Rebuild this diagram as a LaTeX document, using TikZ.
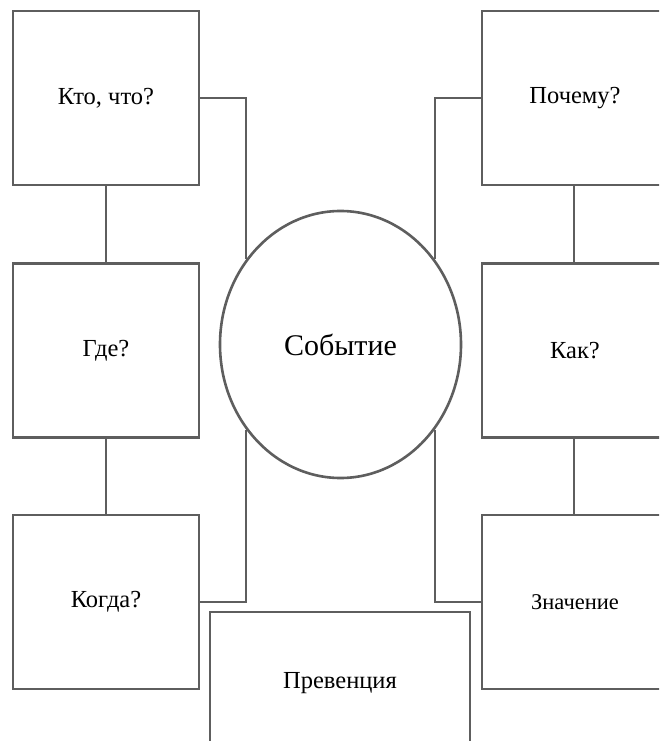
\documentclass[tikz,border=0pt]{standalone}
\usepackage{fontspec}
\setmainfont{Liberation Serif}
\usetikzlibrary{shapes.geometric}
\definecolor{linegray}{HTML}{5E5E5E}
\tikzset{
  qbox/.style={draw=linegray, line width=2.6pt, fill=white, rectangle, minimum width=186pt, minimum height=174pt, inner sep=0pt, font=\fontsize{24.5}{28}\selectfont},
  conn/.style={draw=linegray, line width=2.6pt},
  evt/.style={draw=linegray, line width=2.6pt, fill=white, ellipse, minimum width=241pt, minimum height=267pt, inner sep=0pt, font=\fontsize{30}{34}\selectfont}
}
\begin{document}
\begin{tikzpicture}[x=1pt,y=-1pt]
\useasboundingbox (0,0) rectangle (659,741);
\clip (0,0) rectangle (659,741);
\fill[white] (0,0) rectangle (659,741);
% left boxes
\node[qbox] (who) at (106,98) {Кто, что?};
\node[qbox] (where) at (106,350.5) {Где?};
\node[qbox] (when) at (106,602) {Когда?};
% right boxes
\node[qbox] (why) at (575,98) {Почему?};
\node[qbox] (how) at (575,350.5) {Как?};
\node[qbox, font=\fontsize{22.5}{26}\selectfont] (mean) at (575,602) {Значение};
% center
\node[evt] (ev) at (340.5,344.5) {Событие};
% prevention
\node[qbox, minimum width=260pt, minimum height=142pt] (prev) at (340,683) {Превенция};
% connectors
\draw[conn] (who.south) -- (where.north);
\draw[conn] (where.south) -- (when.north);
\draw[conn] (why.south -| 574,0) -- (how.north -| 574,0);
\draw[conn] (how.south -| 574,0) -- (mean.north -| 574,0);
\draw[conn] (who.east) -| (ev.138);
\draw[conn] (ev.222) |- (when.east);
\draw[conn] (why.west) -| (ev.42);
\draw[conn] (ev.318) |- (mean.west);
\end{tikzpicture}
\end{document}
